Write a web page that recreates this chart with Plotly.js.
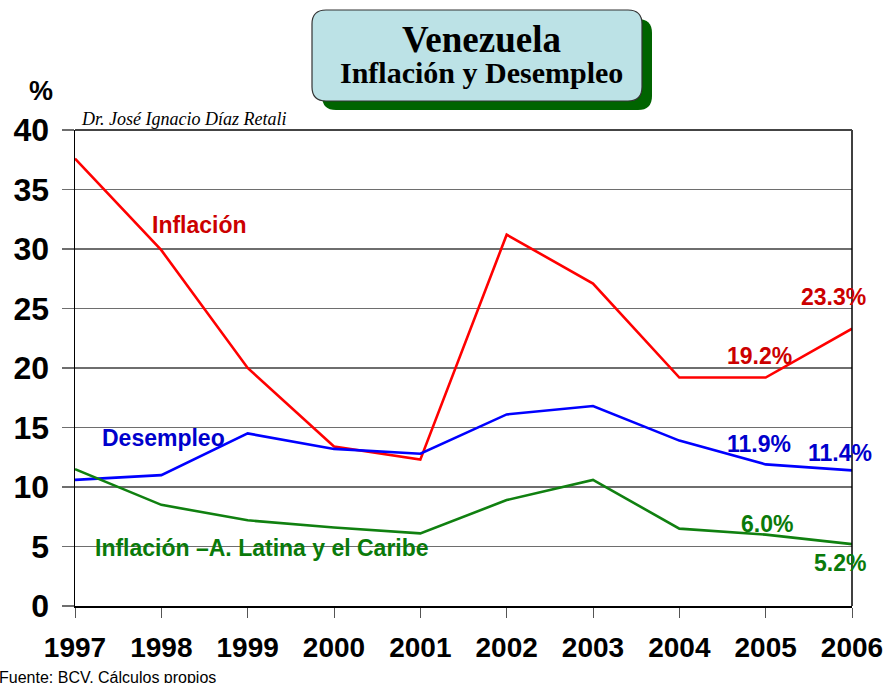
<!DOCTYPE html>
<html><head><meta charset="utf-8">
<script src="https://cdn.plot.ly/plotly-3.0.1.min.js"></script>
<style>body{margin:0;background:#fff}#c{width:885px;height:683px}</style>
</head><body><div id="c"></div>
<script>
const years = [1997,1998,1999,2000,2001,2002,2003,2004,2005,2006];
const inflacion = [37.6,29.9,20.0,13.4,12.3,31.2,27.1,19.2,19.2,23.3];
const desempleo = [10.6,11.0,14.5,13.2,12.8,16.1,16.8,13.9,11.9,11.4];
const inflacionAL = [11.5,8.5,7.2,6.6,6.1,8.9,10.6,6.5,6.0,5.2];
const yTicks = [0,5,10,15,20,25,30,35,40];

const W=885,H=683,L=75,R=33,T=130,B=77;
const pw=W-L-R, ph=H-T-B;
const px=x=>(x-L)/pw, py=y=>(H-B-y)/ph;

function rrect(x0,y0,x1,y1,r){
  const a=px(x0),b=px(x1),c=py(y0),d=py(y1),rx=r/pw,ry=r/ph;
  return `M${a+rx},${c} L${b-rx},${c} Q${b},${c} ${b},${c-ry} L${b},${d+ry} Q${b},${d} ${b-rx},${d} L${a+rx},${d} Q${a},${d} ${a},${d+ry} L${a},${c-ry} Q${a},${c} ${a+rx},${c} Z`;
}

const lineW=2.6;
const traces=[
 {x:years,y:inflacion,mode:'lines',line:{color:'#ff0000',width:lineW},hoverinfo:'skip'},
 {x:years,y:desempleo,mode:'lines',line:{color:'#0000ff',width:lineW},hoverinfo:'skip'},
 {x:years,y:inflacionAL,mode:'lines',line:{color:'#108010',width:lineW},hoverinfo:'skip'}
];

const SANS='Liberation Sans, Arial, sans-serif', SERIF='Liberation Serif, Times New Roman, serif';
const txt=(t,x,y,font,xa)=>({text:t,xref:'paper',yref:'paper',x:px(x),y:py(y),showarrow:false,
  xanchor:xa||'center',yanchor:'middle',font:font});
const lab=(t,x,y,color)=>txt('<b>'+t+'</b>',x,y,{family:SANS,size:23,color:color});

const layout={
 width:W,height:H,margin:{l:L,r:R,t:T,b:B},
 paper_bgcolor:'#fff',plot_bgcolor:'#fff',showlegend:false,
 xaxis:{range:[1997,2006],tickvals:years,ticktext:years.map(v=>'<b>'+v+'</b>'),showgrid:false,
   showline:true,linecolor:'#000',linewidth:1.5,ticks:'outside',ticklen:10,tickcolor:'#555',tickwidth:1,
   ticklabelstandoff:6,
   tickfont:{family:SANS,size:28,color:'#000'},zeroline:false,fixedrange:true},
 yaxis:{range:[0,40],tickvals:yTicks,ticktext:yTicks.map(v=>'<b>'+v+'</b>'),showgrid:true,gridcolor:'#6e6e6e',gridwidth:1.4,
   showline:true,linecolor:'#000',linewidth:1.5,ticks:'outside',ticklen:12,tickcolor:'#6e6e6e',tickwidth:1.4,
   ticklabelstandoff:6,
   tickfont:{family:SANS,size:32,color:'#000'},zeroline:false,fixedrange:true},
 shapes:[
  {type:'line',xref:'paper',yref:'paper',x0:1,x1:1,y0:0,y1:1,line:{color:'#000',width:1.5}},
  {type:'line',xref:'paper',yref:'paper',x0:0,x1:1,y0:1,y1:1,line:{color:'#444',width:2}},
  {type:'path',xref:'paper',yref:'paper',path:rrect(322,19,652,110,14),fillcolor:'#006400',line:{width:0}},
  {type:'path',xref:'paper',yref:'paper',path:rrect(312,10,642,101,14),fillcolor:'#bce2e6',line:{color:'#333',width:1.2}}
 ],
 annotations:[
  txt('<b>Venezuela</b>',481,39,{family:SERIF,size:37,color:'#000'}),
  txt('<b>Inflación y Desempleo</b>',481,72,{family:SERIF,size:30,color:'#000'}),
  txt('<b>%</b>',41,91,{family:SANS,size:27,color:'#000'}),
  txt('<i>Dr. José Ignacio Díaz Retali</i>',79,119,{family:SERIF,size:18,color:'#000'},'left'),
  txt('Fuente: BCV. Cálculos propios',-3,677,{family:SANS,size:16,color:'#000'},'left'),
  lab('Inflación',199,225,'#cc0000'),
  lab('Desempleo',163,438,'#0000cc'),
  lab('Inflación –A. Latina y el Caribe',262,548,'#0a7a0a'),
  lab('23.3%',833,297,'#cc0000'),
  lab('19.2%',759,356,'#cc0000'),
  lab('11.9%',759,444,'#0000cc'),
  lab('11.4%',840,453,'#0000cc'),
  lab('6.0%',767,524,'#0a7a0a'),
  lab('5.2%',840,563,'#0a7a0a')
 ]
};
Plotly.newPlot('c',traces,layout,{displayModeBar:false,staticPlot:true});
</script></body></html>
